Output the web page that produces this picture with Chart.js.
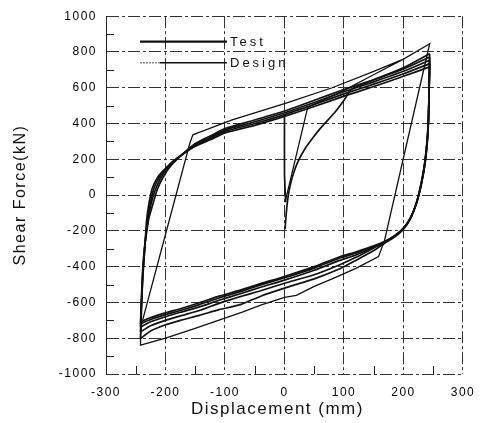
<!DOCTYPE html>
<html><head><meta charset="utf-8">
<script src="https://cdn.jsdelivr.net/npm/chart.js@4"></script>
<style>html,body{margin:0;padding:0;background:#fff}</style>
</head><body>
<canvas id="c" width="484" height="423"></canvas>
<script>
// ---- tick values ----
const xTickValues = [-300, -200, -100, 0, 100, 200, 300];
const yTickValues = [-1000, -800, -600, -400, -200, 0, 200, 400, 600, 800, 1000];
const xMinorTicks = [-250, -150, -50, 50, 150, 250];
const yMinorTicks = [-900, -700, -500, -300, -100, 100, 300, 500, 700, 900];
const legendLabels = ['Test', 'Design'];
const axisTitles = { x: 'Displacement (mm)', y: 'Shear Force(kN)' };

// ---- Test: start / initial loading ----
const testVertX = [0, 0, 2];
const testVertY = [445, 120, -40];
const testInitX = [1, 3, 6, 10, 16, 23, 35, 50, 62, 84, 100, 112, 150, 200, 244];
const testInitY = [-190, -100, -10, 60, 130, 190, 262, 330, 380, 460, 530, 590, 645, 712, 790];

// ---- Test: reloading branches (negative peak -> positive peak) ----
const upX = [-242, -240, -238, -235, -232, -228, -222, -214, -204, -190, -172, -150, -125, -100, -50, 0, 50, 100, 150, 200, 244];
const up1 = [-802, -600, -450, -310, -150, -50, 40, 95, 135, 182, 228, 288, 330, 372, 420, 470, 530, 590, 645, 705, 772];
const up2 = [-765, -580, -440, -300, -190, -90, 10, 80, 128, 178, 227, 283, 323, 364, 410, 460, 518, 578, 633, 692, 754];
const up3 = [-737, -560, -420, -290, -200, -110, -20, 55, 118, 175, 226, 278, 316, 356, 400, 450, 507, 566, 620, 678, 735];
const up4 = [-720, -540, -400, -285, -215, -130, -60, 30, 100, 168, 225, 273, 309, 348, 390, 440, 495, 553, 607, 664, 717];

// ---- Test: unloading branches (positive peak -> negative peak) ----
const lowX = [244, 243, 242, 240, 236, 230, 222, 212, 200, 185, 170, 150, 120, 93, 50, 0, -40, -73, -110, -143, -175, -200, -225, -242];
const low1 = [790, 600, 450, 320, 190, 70, -40, -130, -190, -235, -265, -310, -365, -412, -468, -520, -565, -611, -640, -672, -700, -725, -760, -802];
const low2 = [772, 590, 440, 315, 185, 68, -40, -128, -188, -232, -262, -295, -348, -389, -445, -493, -535, -566, -605, -645, -675, -700, -730, -765];
const low3 = [754, 580, 430, 305, 180, 65, -42, -127, -186, -230, -260, -290, -335, -365, -420, -475, -515, -550, -588, -625, -655, -680, -708, -737];
const low4 = [735, 570, 420, 300, 175, 62, -44, -126, -185, -228, -258, -287, -325, -352, -408, -462, -502, -538, -575, -612, -645, -668, -695, -720];
const low5 = [717, 560, 410, 295, 170, 60, -45, -125, -184, -227, -256, -284, -318, -345, -400, -455, -495, -530, -565, -602, -635, -658, -685, -709];

// ---- Design (multi-linear model) ----
const designX = [2, 39, 100, 148, 200, 244, 168, 158, 120, 82, 50, 20, 0, -40, -71, -143, -159, -200, -242, -242, -240, -159, -154, -140, -88, 4, 80, 148, 200, 244];
const designY = [-25, 490, 585, 670, 760, 846, -255, -344, -410, -465, -510, -560, -572, -615, -654, -737, -755, -800, -839, -780, -718, 291, 337, 355, 420, 515, 600, 689, 760, 846];

// ---------------------------------------------------------------
const ink = '#111';
const FONT = "'Liberation Sans', Arial, Helvetica, sans-serif";
const pts = (xs, ys) => xs.map((x, i) => ({x: x, y: ys[i]}));

const testPaths = [
  [testVertX, testVertY], [testInitX, testInitY],
  [lowX, low1], [upX, up1], [lowX, low2], [upX, up2],
  [lowX, low3], [upX, up3], [lowX, low4], [upX, up4], [lowX, low5]
];
const datasets = testPaths.map(([xs, ys]) => ({
  label: legendLabels[0], data: pts(xs, ys), showLine: true, borderColor: ink,
  borderWidth: 1.7, tension: 0.2, pointRadius: 0, fill: false
}));
datasets.push({
  label: legendLabels[1], data: pts(designX, designY), showLine: true, borderColor: ink,
  borderWidth: 1.3, tension: 0, pointRadius: 0, fill: false
});

const spacingPlugin = {
  id: 'spacing',
  beforeDraw(chart) { chart.ctx.letterSpacing = '1.5px'; }
};

const minorPlugin = {
  id: 'minor',
  beforeDatasetsDraw(chart) {
    const {ctx, chartArea: a, scales: {x, y}} = chart;
    ctx.save();
    ctx.strokeStyle = '#222'; ctx.lineWidth = 1; ctx.setLineDash([]);
    ctx.beginPath();
    yMinorTicks.forEach(v => { const py = Math.round(y.getPixelForValue(v)) + 0.5; ctx.moveTo(a.left, py); ctx.lineTo(a.left + 8, py); });
    xMinorTicks.forEach(v => { const px = Math.round(x.getPixelForValue(v)) + 0.5; ctx.moveTo(px, a.bottom); ctx.lineTo(px, a.bottom - 8); });
    ctx.stroke();
    ctx.restore();
  }
};

const titlePlugin = {
  id: 'titles',
  afterDraw(chart) {
    const {ctx, chartArea: a} = chart;
    ctx.save();
    ctx.fillStyle = ink; ctx.textAlign = 'center'; ctx.textBaseline = 'middle';
    ctx.letterSpacing = '1.5px';
    ctx.font = '17px ' + FONT;
    ctx.fillText(axisTitles.x, (a.left + a.right) / 2 - 7, a.bottom + 35);
    ctx.font = '16px ' + FONT;
    ctx.translate(21, (a.top + a.bottom) / 2);
    ctx.rotate(-Math.PI / 2);
    ctx.fillText(axisTitles.y, 0, 0);
    ctx.restore();
  }
};

const legendPlugin = {
  id: 'inlegend',
  afterDatasetsDraw(chart) {
    const {ctx, chartArea: a} = chart;
    const x0 = a.left + 34, x1 = a.left + 121, rows = [a.top + 25.5, a.top + 46.5];
    ctx.save();
    ctx.strokeStyle = ink; ctx.setLineDash([]);
    ctx.lineWidth = 2.2;
    ctx.beginPath(); ctx.moveTo(x0, rows[0]); ctx.lineTo(x1, rows[0]); ctx.stroke();
    ctx.lineWidth = 1.6;
    ctx.strokeStyle = '#888'; ctx.setLineDash([2, 1]);
    ctx.beginPath(); ctx.moveTo(x0, rows[1]); ctx.lineTo(x0 + 20, rows[1]); ctx.stroke();
    ctx.strokeStyle = ink; ctx.setLineDash([]);
    ctx.beginPath(); ctx.moveTo(x0 + 20, rows[1]); ctx.lineTo(x1, rows[1]); ctx.stroke();
    ctx.fillStyle = ink; ctx.font = '13px ' + FONT; ctx.letterSpacing = '3px';
    ctx.textBaseline = 'middle'; ctx.textAlign = 'left';
    legendLabels.forEach((t, i) => ctx.fillText(t, x1 + 3, rows[i] + 1));
    ctx.restore();
  }
};

const gridCommon = { color: '#333', lineWidth: 1, drawTicks: false };
const borderDash = [12, 3, 3, 3];
const plainLabel = v => String(v);

new Chart(document.getElementById('c'), {
  type: 'scatter',
  data: { datasets },
  options: {
    responsive: false, animation: false, devicePixelRatio: 1,
    layout: { padding: { top: 15, right: 17, left: 0, bottom: 0 } },
    plugins: { legend: { display: false }, tooltip: { enabled: false } },
    scales: {
      x: {
        type: 'linear', min: -300, max: 300,
        afterBuildTicks: s => { s.ticks = xTickValues.map(v => ({value: v})); },
        afterFit: s => { s.height = 49; },
        ticks: { font: { family: FONT, size: 12 }, color: '#000', padding: 11, maxRotation: 0, autoSkip: false, callback: plainLabel },
        grid: gridCommon,
        border: { display: false, dash: borderDash },
        title: { display: false }
      },
      y: {
        type: 'linear', min: -1000, max: 1000,
        afterBuildTicks: s => { s.ticks = yTickValues.map(v => ({value: v})); },
        afterFit: s => { s.width = 106; },
        ticks: { font: { family: FONT, size: 12 }, color: '#000', padding: 9, autoSkip: false, callback: plainLabel },
        grid: gridCommon,
        border: { display: true, color: '#222', width: 1, dash: borderDash },
        title: { display: false }
      }
    }
  },
  plugins: [spacingPlugin, minorPlugin, legendPlugin, titlePlugin]
});
</script>
</body></html>
